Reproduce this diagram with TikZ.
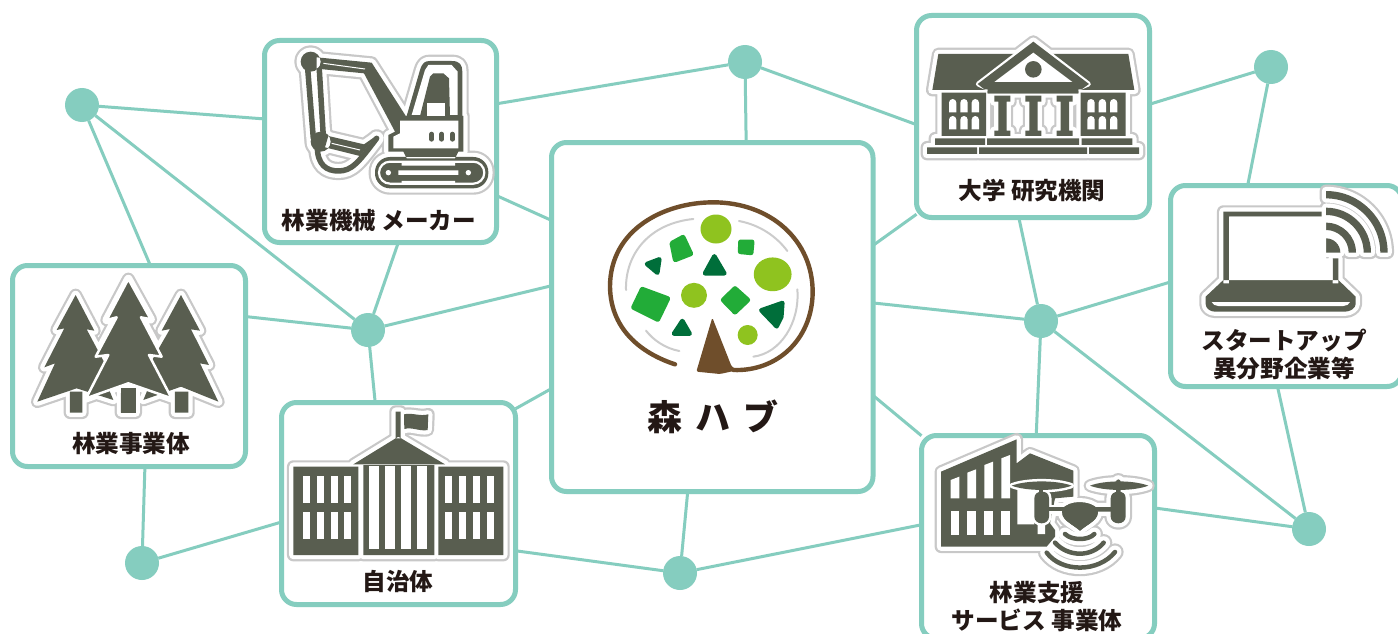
\documentclass[tikz,border=0pt]{standalone}
\usepackage{fontspec}
\setmainfont{Noto Sans CJK JP}
\usetikzlibrary{backgrounds}
\definecolor{teal1}{HTML}{85CDBF}
\definecolor{dk}{HTML}{595E50}
\definecolor{hg}{HTML}{C8C8C8}
\definecolor{txt}{HTML}{231815}
\definecolor{brn}{HTML}{6F4E2B}
\definecolor{lg}{HTML}{8FC31F}
\definecolor{mg}{HTML}{22AC38}
\definecolor{dg}{HTML}{006E3A}
\definecolor{arcg}{HTML}{CCCCCC}
\tikzset{
  boxn/.style={shape=rectangle,draw=teal1,line width=5pt,fill=white,rounded corners=15pt,inner sep=0pt,outer sep=0pt},
  hub/.style={shape=circle,fill=teal1,minimum size=34pt,inner sep=0pt,outer sep=0pt},
  link/.style={draw=teal1,line width=3pt},
  lab/.style={font=\bfseries\fontsize{23.6}{28}\selectfont,text=txt,align=center,inner sep=0pt},
  halog/.style={draw=hg,line width=12.8pt,line join=round,line cap=round},
  halow/.style={draw=white,line width=8.4pt,line join=round,line cap=round},
  dkf/.style={fill=dk},
  wf/.style={fill=white},
  zoomA/.style={x=0.33333pt,y=-0.33333pt},
  la/.style={fill=lg},
  ma/.style={fill=mg,draw=mg,line width=5pt,line join=round},
  da/.style={fill=dg,draw=dg,line width=4.5pt,line join=round},
  ga/.style={draw=arcg,line width=2pt,line cap=round}
}
\newcommand{\icon}[4]{%
  \path[halog] #1;
  \path[halog,line width=#3pt+12.8pt] #2;
  \path[halow] #1;
  \path[halow,line width=#3pt+8.4pt] #2;
  \path[dkf] #1;
  \path[draw=dk,line width=#3pt,line cap=round,line join=round] #2;
  #4}
\begin{document}
\begin{tikzpicture}[x=1pt,y=-1pt]
\useasboundingbox (0,0) rectangle (1398,634);
% boxes
\node[boxn,minimum width=232pt,minimum height=202pt] (maker) at (380.5,141.5) {};
\node[boxn,minimum width=233pt,minimum height=201pt] (forest) at (129,366) {};
\node[boxn,minimum width=321.5pt,minimum height=349pt] (hubbox) at (712.25,317) {};
\node[boxn,minimum width=234pt,minimum height=202pt] (gov) at (398.5,503.5) {};
\node[boxn,minimum width=233pt,minimum height=202pt] (univ) at (1033,116.5) {};
\node[boxn,minimum width=231.5pt,minimum height=201pt] (startup) at (1286.25,286) {};
\node[boxn,minimum width=233pt,minimum height=203pt] (service) at (1038,537) {};
% hubs
\node[hub] (h1) at (82,105) {};
\node[hub] (h2) at (745,62) {};
\node[hub] (h3) at (1271,67) {};
\node[hub] (h4) at (368,330) {};
\node[hub] (h5) at (1041,321) {};
\node[hub] (h6) at (142,563) {};
\node[hub] (h7) at (680,573) {};
\node[hub] (h8) at (1309,529) {};
% connectors
\begin{scope}[on background layer]
\fill[white] (0,0) rectangle (1398,634);
\draw[link] (h1) -- (maker.169);
\draw[link] (h1) -- (forest.78.2);
\draw[link] (h1) -- (h4);
\draw[link] (maker.280.4) -- (h4);
\draw[link] (forest.23.2) -- (h4);
\draw[link] (h4) -- (hubbox.169.6);
\draw[link] (h4) -- (gov.103.6);
\draw[link] (maker.335.9) -- (hubbox.149.2);
\draw[link] (maker.18.6) -- (h2);
\draw[link] (h2) -- (hubbox.79.05);
\draw[link] (h2) -- (univ.184.2);
\draw[link] (univ.6.1) -- (h3);
\draw[link] (h3) -- (startup.111.3);
\draw[link] (univ.220.2) -- (hubbox.24.4);
\draw[link] (univ.262.7) -- (h5);
\draw[link] (hubbox.5.3) -- (h5);
\draw[link] (h5) -- (startup.178);
\draw[link] (h5) -- (service.91.1);
\draw[link] (h5) -- (h8);
\draw[link] (startup.265.3) -- (h8);
\draw[link] (service.14) -- (h8);
\draw[link] (hubbox.334.1) -- (service.139.6);
\draw[link] (hubbox.204.1) -- (gov.39.5);
\draw[link] (hubbox.262.4) -- (h7);
\draw[link] (gov.338.7) -- (h7);
\draw[link] (h7) -- (service.174.1);
\draw[link] (gov.189.9) -- (h6);
\draw[link] (forest.279) -- (h6);
\end{scope}
% excavator
\begin{scope}[shift={(260,30)},zoomA]
\icon{(152,95) circle (10pt) (182,335) circle (10pt)
 (170,82)--(335,98)--(440,262)--(405,262)--(405,305)--(312,130)--(170,116)--cycle
 (205,318)--(312,343)--(345,320)--(300,378)--(195,352)--cycle
 (440,258)--(480,120) .. controls (487,98) and (495,93) .. (510,93) -- (575,93) .. controls (600,93) and (607,105) .. (607,125) -- (607,258)--cycle
 (405,258)--(610,258)--(610,365)--(385,365)--(385,315)--(405,305)--cycle
 (430,365)--(595,365)--(585,385)--(440,385)--cycle
 (345,381) [rounded corners=15pt] rectangle (685,475) [sharp corners]
}{(143,115)--(160,325) (178,120)--(190,320)
 (172,350) .. controls (172,405) and (200,423) .. (235,423) .. controls (275,423) and (295,398) .. (350,325)}{5.5}{%
 \fill[wf] (455,255)--(495,120)--(505,105)--(575,105)--(593,125)--(593,255)--cycle;
 \fill[dkf] (480,258)--(510,140)--(520,130)--(550,130)--(567,145)--(570,258)--cycle;
 \fill[wf] (500,220) rectangle (555,258);
 \fill[wf] (420,272)--(595,272)--(595,355)--(400,355)--(400,320)--(420,310)--cycle;
 \draw[draw=dk,line width=4.6pt,line cap=round] (515,312)--(515,328) (545,312)--(545,328) (577,312)--(577,328);
 \draw[white,line width=2.2pt,rounded corners=11pt] (357,395) rectangle (673,461);
 \fill[wf] (425,397) rectangle (585,407) (415,421) rectangle (595,435) (425,453) rectangle (585,463);
 \fill[wf] (385,428) circle (2.7pt) (625,428) circle (2.7pt);
 \draw[white,line width=1pt] (190,100)--(315,117) (215,340)--(300,360) (158,135)--(172,300);
}
\end{scope}
% trees
\begin{scope}[shift={(5,260)},zoomA]
\icon{(212,105)--(268,212)--(245,208)--(310,330)--(290,335)--(325,420)--(215,385)--(97,425)--(150,310)--(118,322)--(178,205)--(155,210)--cycle
 (528,105)--(585,212)--(558,208)--(612,315)--(585,310)--(640,425)--(528,380)--(415,420)--(450,335)--(430,320)--(495,207)--(470,212)--cycle
 (195,395) rectangle (232,458) (510,395) rectangle (550,458)
 (370,57)--(437,178)--(408,172)--(470,290)--(432,285)--(500,415)--(370,370)--(243,415)--(310,285)--(272,290)--(335,172)--(305,180)--cycle
 (348,385) rectangle (392,458)
}{}{0}{%
 \path[draw=white,line width=2.5pt,line join=round,fill=dk] (370,57)--(437,178)--(408,172)--(470,290)--(432,285)--(500,415)--(370,370)--(243,415)--(310,285)--(272,290)--(335,172)--(305,180)--cycle;
 \fill[wf] (342,385) rectangle (398,400);
 \fill[dkf] (348,385) rectangle (392,458);
}
\end{scope}
% government
\begin{scope}[shift={(275,395)},zoomA]
\icon{(55,215) rectangle (250,480) (490,215) rectangle (685,480)
 (265,210) rectangle (478,480) (235,208)--(370,125)--(510,208)--cycle
 (362,50) rectangle (377,130)
 (387,58) .. controls (410,52) and (435,65) .. (460,58) -- (458,105) .. controls (435,110) and (410,95) .. (388,102) -- cycle
}{}{0}{%
 \foreach \a in {84,125,167,208,511,552,594,635} \foreach \b in {243,350} \fill[wf] (\a,\b) rectangle (\a+21,\b+82);
 \foreach \a in {283,331,379,427} \fill[wf] (\a,212) rectangle (\a+30,462);
}
\end{scope}
% university
\begin{scope}[shift={(915,10)},zoomA]
\icon{(70,132)--(640,132)--(658,240)--(52,240)--cycle
 (80,248) rectangle (213,378) (497,248) rectangle (632,378)
 (355,95)--(520,222)--(490,235)--(490,250)--(218,250)--(218,235)--(190,222)--cycle
 (238,257) rectangle (286,275) (250,275) rectangle (275,362) (238,362) rectangle (286,378)
 (331,257) rectangle (379,275) (343,275) rectangle (368,362) (331,362) rectangle (379,378)
 (425,257) rectangle (473,275) (437,275) rectangle (462,362) (425,362) rectangle (473,378)
 (60,385) rectangle (210,405) (216,385) rectangle (492,405) (500,385) rectangle (652,405)
 (36,412) rectangle (186,432) (192,412) rectangle (516,432) (522,412) rectangle (672,432)
}{}{0}{%
 \path[draw=white,line width=5pt,line join=round,fill=dk] (355,95)--(520,222)--(490,235)--(218,235)--(190,222)--cycle;
 \fill[dkf] (355,95)--(522,222)--(500,238)--(490,238)--(490,250)--(218,250)--(218,238)--(208,238)--(188,222)--cycle;
 \fill[wf] (238,216)--(355,128)--(472,216)--cycle;
 \fill[dkf] (355,178) circle (8.3pt);
 \foreach \a in {102,136,170,517,551,585} \foreach \b in {267,318} \fill[wf] (\a,\b+40) -- (\a,\b+11) arc[start angle=180,end angle=0,radius=3.67pt] -- (\a+22,\b+40) -- cycle;
}
\end{scope}
% laptop
\begin{scope}[shift={(1165,180)},zoomA]
\icon{(175,95) rectangle (470,110) (175,95) rectangle (192,310) (503,235) rectangle (520,310)
 (175,300)--(520,300)--(572,350)--(572,372) .. controls (572,385) and (555,395) .. (540,395) -- (150,395) .. controls (135,395) and (122,385) .. (122,372) -- (122,350)--cycle
 (483,218) -- (483,175) arc[start angle=90,end angle=0,radius=14.33pt] -- cycle
 (483,128) arc[start angle=90,end angle=0,radius=30pt] -- (551,218) arc[start angle=0,end angle=90,radius=22.67pt] -- cycle
 (483,83) arc[start angle=90,end angle=0,radius=45pt] -- (596,218) arc[start angle=0,end angle=90,radius=37.67pt] -- cycle
 (483,33) arc[start angle=90,end angle=0,radius=61.67pt] -- (646,218) arc[start angle=0,end angle=90,radius=54.33pt] -- cycle
}{}{0}{%
 \fill[wf] (192,110) rectangle (470,300) (470,110) rectangle (483,300) (483,235) rectangle (503,300);
 \fill[wf] (140,366) -- (555,366) .. controls (552,373) and (545,378) .. (535,378) -- (160,378) .. controls (150,378) and (143,373) .. (140,366) -- cycle;
}
\end{scope}
% service building and drone
\begin{scope}[shift={(915,430)},zoomA]
\icon{(78,125)--(305,28)--(305,100)--(345,70)--(475,122)--(475,200)--(420,205)--(405,280)--(420,300)--(420,320)--(395,350)--(78,350)--cycle
 (290,167) .. controls (335,150) and (425,150) .. (470,167) .. controls (425,184) and (335,184) .. (290,167) -- cycle
 (525,167) .. controls (570,150) and (655,150) .. (700,167) .. controls (655,184) and (570,184) .. (525,167) -- cycle
 (358,205) .. controls (358,190) and (370,185) .. (380,185) .. controls (392,185) and (402,190) .. (402,205) -- (402,260) .. controls (402,272) and (392,280) .. (380,280) .. controls (368,280) and (358,272) .. (358,260) -- cycle
 (587,205) .. controls (587,190) and (600,185) .. (610,185) .. controls (622,185) and (632,190) .. (632,205) -- (632,260) .. controls (632,272) and (622,280) .. (610,280) .. controls (598,280) and (587,272) .. (587,260) -- cycle
 (442,237) .. controls (462,210) and (525,210) .. (548,237) .. controls (555,270) and (520,280) .. (495,302) .. controls (470,280) and (435,270) .. (442,237) -- cycle
}{(400,238)--(590,238) (378,155)--(378,190) (610,155)--(610,190)
 (450,312) .. controls (470,332) and (520,332) .. (538,312)
 (420,338) .. controls (460,382) and (530,382) .. (566,338)
 (395,368) .. controls (440,428) and (550,428) .. (600,366)}{4.5}{%
 \foreach \a/\t in {107/150,157/128,208/105,259/85} {\fill[wf] (\a,\t) -- (\a+26,\t-10) -- (\a+26,205) -- (\a,205) -- cycle; \fill[wf] (\a,242) rectangle (\a+26,315);}
 \fill[wf] (307,172) rectangle (358,283) (368,280) rectangle (390,312);
 \path[draw=white,line width=5pt,line join=round] (290,167) .. controls (335,150) and (425,150) .. (470,167) .. controls (425,184) and (335,184) .. (290,167) -- cycle;
 \path[draw=white,line width=5pt,line join=round] (358,205) .. controls (358,190) and (370,185) .. (380,185) .. controls (392,185) and (402,190) .. (402,205) -- (402,260) .. controls (402,272) and (392,280) .. (380,280) .. controls (368,280) and (358,272) .. (358,260) -- cycle;
 \path[draw=white,line width=9pt] (402,238)--(445,238);
 \fill[dkf] (290,167) .. controls (335,150) and (425,150) .. (470,167) .. controls (425,184) and (335,184) .. (290,167) -- cycle;
 \fill[dkf] (358,205) .. controls (358,190) and (370,185) .. (380,185) .. controls (392,185) and (402,190) .. (402,205) -- (402,260) .. controls (402,272) and (392,280) .. (380,280) .. controls (368,280) and (358,272) .. (358,260) -- cycle;
 \fill[dkf] (442,237) .. controls (462,210) and (525,210) .. (548,237) .. controls (555,270) and (520,280) .. (495,302) .. controls (470,280) and (435,270) .. (442,237) -- cycle;
 \draw[dk,line width=4pt] (400,238)--(450,238) (378,155)--(378,190);
}
\end{scope}
% logo
\begin{scope}[shift={(590,190)},zoomA]
\draw[brn,line width=4.4pt,line cap=round] (255,523) .. controls (170,495) and (62,430) .. (60,290) .. controls (60,120) and (220,37) .. (370,37) .. controls (540,37) and (670,150) .. (668,310) .. controls (665,450) and (560,545) .. (430,540);
\fill[brn,rounded corners=1.5pt] (367,383)--(319,545)--(390,552)--(445,540)--(425,530)--cycle;
\draw[ga] (108,300) .. controls (105,190) and (180,100) .. (310,87);
\draw[ga] (447,93) .. controls (510,105) and (560,140) .. (592,183);
\draw[ga] (622,298) .. controls (630,400) and (570,490) .. (490,500);
\draw[ga] (168,422) .. controls (190,450) and (225,475) .. (268,483);
\fill[la] (378,117) ellipse [x radius=15.5pt,y radius=14.5pt];
\fill[la] (548,253) ellipse [x radius=18.9pt,y radius=16.9pt];
\fill[la] (312,316) ellipse [x radius=13pt,y radius=12.5pt];
\fill[la] (473,435) ellipse [x radius=10pt,y radius=10pt];
\path[ma] (246,160)--(279,142)--(302,191)--(256,209)--cycle;
\path[ma] (452,156)--(486,156)--(483,188)--(451,185)--cycle;
\path[ma] (157,298)--(233,326)--(203,388)--(131,352)--cycle;
\path[ma] (435,296)--(473,330)--(435,366)--(400,330)--cycle;
\path[da] (373,199)--(403,250)--(345,250)--cycle;
\path[da] (171,222)--(208,208)--(202,248)--cycle;
\path[da] (277,393)--(299,431)--(252,431)--cycle;
\path[da] (514,361)--(577,339)--(574,381)--(560,409)--cycle;
\end{scope}
% labels
\node[inner sep=0pt,text=txt,font=\bfseries\fontsize{35}{40}\selectfont] (logotext) at (713,417) {\spaceskip=13pt 森 ハ ブ};
\node[lab] (l1) at (379,221) {林業機械 メーカー};
\node[lab] (l2) at (131,444) {林業事業体};
\node[lab] (l3) at (398,581) {自治体};
\node[lab] (l4) at (1032,191) {大学 研究機関};
\node[lab] (l5) at (1284,354) {スタートアップ\\異分野企業等};
\node[lab] (l6) at (1037,607) {林業支援\\サービス 事業体};
\end{tikzpicture}
\end{document}
